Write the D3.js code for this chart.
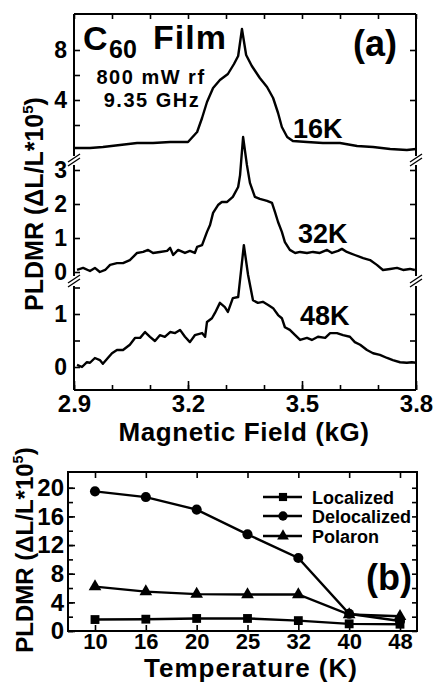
<!DOCTYPE html>
<html>
<head>
<meta charset="utf-8">
<script src="https://cdn.jsdelivr.net/npm/d3@7"></script>
<style>
html,body{margin:0;padding:0;background:#fff;}
svg{display:block;}
text{font-family:"Liberation Sans",Arial,Helvetica,sans-serif;font-weight:bold;fill:#000;}
</style>
</head>
<body>
<svg id="chart" width="443" height="683"></svg>
<script>
// ---------- Panel (a) data : magnetic field (kG) vs PLDMR ----------
const field16 = [2.900,2.942,2.976,3.021,3.066,3.108,3.153,3.200,3.224,3.237,3.250,3.266,3.284,3.305,3.321,3.332,3.342,3.353,3.368,3.389,3.408,3.424,3.437,3.447,3.461,3.476,3.513,3.555,3.600,3.645,3.687,3.732,3.776,3.800];
const pl16    = [0.16,0.16,0.24,0.40,0.56,0.56,0.64,0.64,1.44,2.56,3.84,4.96,5.60,6.08,6.88,7.52,9.68,7.60,6.72,5.76,5.04,4.16,2.96,1.84,1.04,0.72,0.64,0.56,0.56,0.32,0.24,0.08,0.00,0.08];

const field32 = [2.908,2.924,2.942,2.955,2.968,2.982,2.995,3.013,3.029,3.047,3.066,3.082,3.095,3.108,3.126,3.145,3.153,3.161,3.174,3.192,3.205,3.218,3.224,3.237,3.250,3.258,3.266,3.279,3.289,3.303,3.318,3.332,3.337,3.345,3.355,3.363,3.376,3.389,3.408,3.421,3.429,3.437,3.447,3.455,3.468,3.482,3.495,3.513,3.529,3.547,3.566,3.579,3.595,3.605,3.618,3.639,3.661,3.679,3.697,3.713,3.732,3.750,3.766,3.784,3.797];
const pl32    = [0.06,0.12,0.03,0.12,0.00,0.06,0.21,0.26,0.26,0.35,0.56,0.59,0.65,0.56,0.59,0.62,0.71,0.50,0.65,0.56,0.62,0.56,0.74,0.79,1.18,1.38,1.74,1.97,2.06,2.06,2.21,2.50,2.85,3.97,3.15,2.62,2.21,2.15,2.09,2.03,1.76,1.47,1.18,0.88,0.65,0.56,0.59,0.56,0.59,0.56,0.65,0.56,0.62,0.68,0.59,0.50,0.41,0.35,0.21,0.06,0.09,0.12,0.06,0.09,0.06];

const field48 = [2.908,2.921,2.934,2.942,2.955,2.968,2.976,2.989,3.000,3.013,3.029,3.047,3.061,3.074,3.087,3.100,3.113,3.126,3.139,3.153,3.166,3.179,3.192,3.205,3.218,3.237,3.245,3.250,3.263,3.271,3.284,3.297,3.305,3.318,3.332,3.347,3.358,3.371,3.384,3.397,3.411,3.424,3.437,3.447,3.455,3.468,3.482,3.495,3.513,3.526,3.542,3.561,3.574,3.592,3.608,3.626,3.639,3.653,3.671,3.687,3.705,3.724,3.739,3.758,3.776,3.789,3.800];
const pl48    = [0.04,0.00,0.09,0.08,0.17,0.13,0.06,0.17,0.26,0.32,0.32,0.42,0.55,0.55,0.66,0.57,0.49,0.60,0.57,0.66,0.64,0.70,0.57,0.47,0.60,0.64,0.57,0.85,0.92,1.02,1.21,1.13,1.04,1.30,1.32,2.30,1.74,1.26,1.21,1.23,1.17,1.11,0.98,0.92,0.75,0.70,0.60,0.51,0.55,0.51,0.57,0.55,0.64,0.64,0.60,0.57,0.47,0.42,0.32,0.26,0.23,0.17,0.13,0.09,0.08,0.09,0.08];

const fieldTicks = [2.9,3.2,3.5,3.8];
const traceLabels = ["16K","32K","48K"];

// ---------- Panel (b) data : temperature vs PLDMR ----------
const temps       = ["10","16","20","25","32","40","48"];
const localized   = [1.6,1.65,1.75,1.75,1.45,1.0,0.95];
const delocalized = [19.5,18.7,16.95,13.5,10.2,2.4,1.4];
const polaron     = [6.2,5.5,5.15,5.1,5.1,2.3,2.05];
const seriesNames = ["Localized","Delocalized","Polaron"];
const yTicksB     = [0,4,8,12,16,20];

const svg = d3.select("#chart");
const FONT = '"Liberation Sans",Arial,Helvetica,sans-serif';

// ================= Panel (a) =================
const L = 74, R = 416, T = 14, B = 390;
const x = d3.scaleLinear().domain([2.9,3.8]).range([L,R]);
const y16 = d3.scaleLinear().domain([0,8]).range([150,50]);
const y32 = d3.scaleLinear().domain([0,3]).range([272,170]);
const y48 = d3.scaleLinear().domain([0,1]).range([367,314]);

const gA = svg.append("g");

// frame top & bottom
gA.append("line").attr("x1",L).attr("x2",R).attr("y1",T).attr("y2",T).attr("stroke","#000").attr("stroke-width",2);
gA.append("line").attr("x1",L).attr("x2",R).attr("y1",B).attr("y2",B).attr("stroke","#000").attr("stroke-width",2);

// broken vertical axes
const segs = [[T,156],[165,276],[286,B]];
[L,R].forEach(xx=>{
  segs.forEach(s=>{
    gA.append("line").attr("x1",xx).attr("x2",xx).attr("y1",s[0]).attr("y2",s[1]).attr("stroke","#000").attr("stroke-width",2);
  });
  [160,281].forEach(cy=>{
    [-2,2].forEach(o=>{
      gA.append("line").attr("x1",xx-6).attr("y1",cy+o+4).attr("x2",xx+6).attr("y2",cy+o-4)
        .attr("stroke","#000").attr("stroke-width",1.4);
    });
  });
});

function cleanAxis(g, fs){
  g.select(".domain").remove();
  g.selectAll(".tick line").attr("stroke","#000").attr("stroke-width",1.6);
  g.selectAll("text").style("font-family",FONT).style("font-weight","bold").style("font-size",fs+"px").attr("fill","#000");
}

// bottom x axis: minor ticks
const minorX = d3.range(29,39).map(d=>d/10);
gA.append("g").attr("transform",`translate(0,${B})`)
  .call(d3.axisBottom(x).tickValues(minorX).tickSize(-5).tickFormat(""))
  .call(g=>cleanAxis(g,24));
gA.append("g").attr("transform",`translate(0,${B})`)
  .call(d3.axisBottom(x).tickValues(fieldTicks).tickSize(-9).tickPadding(5).tickFormat(d3.format(".1f")))
  .call(g=>cleanAxis(g,24));
// top ticks
gA.append("g").attr("transform",`translate(0,${T})`)
  .call(d3.axisTop(x).tickValues(minorX).tickSize(-5).tickFormat(""))
  .call(g=>cleanAxis(g,24));

// left axes (tick labels)
const leftSpecs = [
  [y16,[2,4,6,8],[4,8]],
  [y32,[0,1,2,3],[0,1,2,3]],
  [y48,[0,0.5,1,1.5],[0,1]]
];
leftSpecs.forEach(([sc,tv,lab])=>{
  gA.append("g").attr("transform",`translate(${L},0)`)
    .call(d3.axisLeft(sc).tickValues(tv).tickSize(-6).tickPadding(7).tickFormat(d=>lab.includes(d)?d:""))
    .call(g=>cleanAxis(g,23));
});
const rightSpecs = [[y16,[4,8]],[y32,[1,2,3]],[y48,[0.5,1]]];
rightSpecs.forEach(([sc,tv])=>{
  gA.append("g").attr("transform",`translate(${R},0)`)
    .call(d3.axisRight(sc).tickValues(tv).tickSize(-6).tickFormat(""))
    .call(g=>cleanAxis(g,23));
});

// traces
const traces = [[field16,pl16,y16],[field32,pl32,y32],[field48,pl48,y48]];
traces.forEach(([fx,fy,sc])=>{
  const pts = fx.map((f,i)=>[f,fy[i]]);
  gA.append("path").datum(pts)
    .attr("d",d3.line().x(d=>x(d[0])).y(d=>sc(d[1])))
    .attr("fill","none").attr("stroke","#000").attr("stroke-width",2.4).attr("stroke-linejoin","round");
});

// text annotations
gA.append("text").attr("x",83).attr("y",50).style("font-size","34px").text("C");
gA.append("text").attr("x",109).attr("y",58).style("font-size","25px").text("60");
gA.append("text").attr("x",153).attr("y",49).style("font-size","34px").style("letter-spacing","1px").text("Film");
gA.append("text").attr("x",397).attr("y",56).attr("text-anchor","end").style("font-size","36px").text("(a)");
gA.append("text").attr("x",151).attr("y",84).attr("text-anchor","middle").style("font-size","20px").style("letter-spacing","1.5px").text("800 mW rf");
gA.append("text").attr("x",152).attr("y",107).attr("text-anchor","middle").style("font-size","20px").style("letter-spacing","1.5px").text("9.35 GHz");
const tlPos = [[293,138],[298,243],[300,325]];
traceLabels.forEach((t,i)=>{
  gA.append("text").attr("x",tlPos[i][0]).attr("y",tlPos[i][1]).style("font-size","27px").text(t);
});
gA.append("text").attr("x",244).attr("y",441).attr("text-anchor","middle").style("font-size","26px").style("letter-spacing","0.6px").text("Magnetic Field (kG)");

function yLabel(g, cx, cy, fs){
  const t = g.append("text").attr("transform",`translate(${cx},${cy}) rotate(-90)`)
    .attr("text-anchor","middle").style("font-size",fs+"px");
  t.append("tspan").text("PLDMR (ΔL/L*10");
  t.append("tspan").attr("dy",-fs*0.4).style("font-size",(fs*0.6)+"px").text("5");
  t.append("tspan").attr("dy",fs*0.4).text(")");
}
yLabel(gA, 43, 204, 25);

// ================= Panel (b) =================
const gB = svg.append("g");
const bL = 68, bR = 417, bT = 472;
const xb = d3.scalePoint().domain(temps).range([95,400]);
const yb = d3.scaleLinear().domain([0,22.2]).range([631,bT]);

gB.append("rect").attr("x",bL).attr("y",bT).attr("width",bR-bL).attr("height",yb(0)-bT)
  .attr("fill","none").attr("stroke","#000").attr("stroke-width",2);

const minorYB = d3.range(0,22,2);
gB.append("g").attr("transform",`translate(${bL},0)`)
  .call(d3.axisLeft(yb).tickValues(minorYB).tickSize(-5).tickFormat(""))
  .call(g=>cleanAxis(g,24));
gB.append("g").attr("transform",`translate(${bL},0)`)
  .call(d3.axisLeft(yb).tickValues(yTicksB).tickSize(-7).tickPadding(4))
  .call(g=>cleanAxis(g,24));
gB.append("g").attr("transform",`translate(${bR},0)`)
  .call(d3.axisRight(yb).tickValues(minorYB).tickSize(-5).tickFormat(""))
  .call(g=>cleanAxis(g,24));
gB.append("g").attr("transform",`translate(0,${yb(0)})`)
  .call(d3.axisBottom(xb).tickSize(-6).tickPadding(2))
  .call(g=>cleanAxis(g,22));
gB.append("g").attr("transform",`translate(0,${bT})`)
  .call(d3.axisTop(xb).tickSize(-6).tickFormat(""))
  .call(g=>cleanAxis(g,22));

const seriesVals = [localized, delocalized, polaron];
const symbols = [d3.symbolSquare, d3.symbolCircle, d3.symbolTriangle];
const symSizes = [78, 80, 70];
const line = d3.line().x(d=>xb(d[0])).y(d=>yb(d[1]));
seriesVals.forEach((vals,si)=>{
  const pts = temps.map((t,i)=>[t,vals[i]]);
  gB.append("path").datum(pts).attr("d",line)
    .attr("fill","none").attr("stroke","#000").attr("stroke-width",2.4);
  gB.selectAll(null).data(pts).enter().append("path")
    .attr("transform",d=>`translate(${xb(d[0])},${yb(d[1])})`)
    .attr("d",d3.symbol().type(symbols[si]).size(symSizes[si])).attr("fill","#000");
});

// legend
const legY = [497,516,536];
seriesNames.forEach((n,i)=>{
  gB.append("line").attr("x1",263).attr("x2",302).attr("y1",legY[i]).attr("y2",legY[i])
    .attr("stroke","#000").attr("stroke-width",2.4);
  gB.append("path").attr("transform",`translate(283,${legY[i]})`)
    .attr("d",d3.symbol().type(symbols[i]).size(symSizes[i]*0.85)).attr("fill","#000");
  gB.append("text").attr("x",312).attr("y",legY[i]+6.5).style("font-size","18px").text(n);
});

gB.append("text").attr("x",412).attr("y",590).attr("text-anchor","end").style("font-size","36px").text("(b)");
gB.append("text").attr("x",251).attr("y",677).attr("text-anchor","middle").style("font-size","26px").style("letter-spacing","1px").text("Temperature (K)");
yLabel(gB, 33, 550, 24);
</script>
</body>
</html>
